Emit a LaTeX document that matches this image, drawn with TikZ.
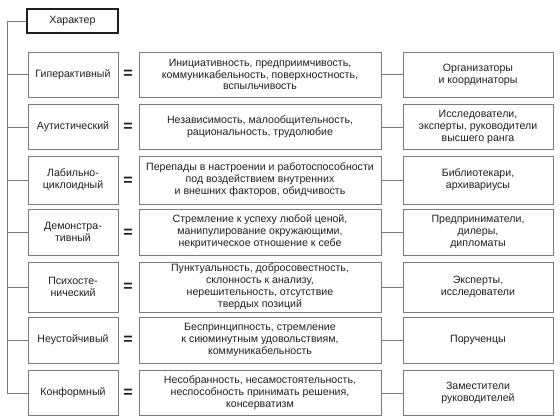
\documentclass[tikz,border=0pt]{standalone}
\usepackage{fontspec}
\setmainfont{Liberation Sans}
\usepackage{tikz}
\definecolor{inkc}{HTML}{1E1E1E}
\definecolor{framec}{HTML}{7A7A7A}
\tikzset{
  basebox/.style={draw=framec, line width=0.6pt, inner sep=0pt, align=center,
    text=inkc, font=\fontsize{10.6}{11.9}\selectfont},
  charbox/.style={basebox, draw=inkc, line width=1.1pt, minimum width=91pt, minimum height=24pt},
  typebox/.style={basebox, minimum width=90pt},
  descbox/.style={basebox, minimum width=242pt},
  profbox/.style={basebox, minimum width=150pt},
  eqsign/.style={inner sep=0pt, text=inkc, font=\fontsize{16}{16}\bfseries},
  link/.style={draw=framec, line width=0.6pt}
}
\begin{document}
\begin{tikzpicture}[x=1pt, y=-1pt]
  \useasboundingbox (0,0) rectangle (560,420);
  \node[charbox] (har) at (72.5,21) {Характер};
  \coordinate (spine) at (7,21);

  % row 1
  \node[typebox, minimum height=45pt] (t1) at (73,74.5) {Гиперактивный};
  \node[eqsign] (e1) at (128,74) {=};
  \node[descbox, minimum height=45pt] (d1) at (260,74.5) {Инициативность, предприимчивость,\\коммуникабельность, поверхностность,\\вспыльчивость};
  \node[profbox, minimum height=45pt] (p1) at (478,74.5) {Организаторы\\и координаторы};
  % row 2
  \node[typebox, minimum height=45pt] (t2) at (73,127) {Аутистический};
  \node[eqsign] (e2) at (128,127) {=};
  \node[descbox, minimum height=45pt] (d2) at (260,127) {Независимость, малообщительность,\\рациональность, трудолюбие};
  \node[profbox, minimum height=45pt] (p2) at (478,127) {Исследователи,\\эксперты, руководители\\высшего ранга};
  % row 3
  \node[typebox, minimum height=48pt] (t3) at (73,180) {Лабильно-\\циклоидный};
  \node[eqsign] (e3) at (128,181) {=};
  \node[descbox, minimum height=48pt] (d3) at (260,180) {Перепады в настроении и работоспособности\\под воздействием внутренних\\и внешних факторов, обидчивость};
  \node[profbox, minimum height=48pt] (p3) at (478,180) {Библиотекари,\\архивариусы};
  % row 4
  \node[typebox, minimum height=46pt] (t4) at (73,232) {Демонстра-\\тивный};
  \node[eqsign] (e4) at (128,233) {=};
  \node[descbox, minimum height=46pt] (d4) at (260,232) {Стремление к успеху любой ценой,\\манипулирование окружающими,\\некритическое отношение к себе};
  \node[profbox, minimum height=46pt] (p4) at (478,232) {Предприниматели,\\дилеры,\\дипломаты};
  % row 5
  \node[typebox, minimum height=50pt] (t5) at (73,287) {Психосте-\\нический};
  \node[eqsign] (e5) at (128,287) {=};
  \node[descbox, minimum height=50pt] (d5) at (260,287) {Пунктуальность, добросовестность,\\склонность к анализу,\\нерешительность, отсутствие\\твердых позиций};
  \node[profbox, minimum height=50pt] (p5) at (478,287) {Эксперты,\\исследователи};
  % row 6
  \node[typebox, minimum height=46pt] (t6) at (73,340) {Неустойчивый};
  \node[eqsign] (e6) at (128,340) {=};
  \node[descbox, minimum height=46pt] (d6) at (260,340) {Беспринципность, стремление\\к сиюминутным удовольствиям,\\коммуникабельность};
  \node[profbox, minimum height=46pt] (p6) at (478,340) {Порученцы};
  % row 7
  \node[typebox, minimum height=45pt] (t7) at (73,393) {Конформный};
  \node[eqsign] (e7) at (128,393) {=};
  \node[descbox, minimum height=45pt] (d7) at (260,393) {Несобранность, несамостоятельность,\\неспособность принимать решения,\\консерватизм};
  \node[profbox, minimum height=45pt] (p7) at (478,393) {Заместители\\руководителей};

  \draw[link] (har.west) -- (spine) |- (t7.west);
  \foreach \i in {1,...,6} {
    \draw[link] (spine) |- (t\i.west);
  }
  \foreach \i in {1,...,7} {
    \draw[link] (d\i.east) -- (p\i.west);
  }
\end{tikzpicture}
\end{document}
